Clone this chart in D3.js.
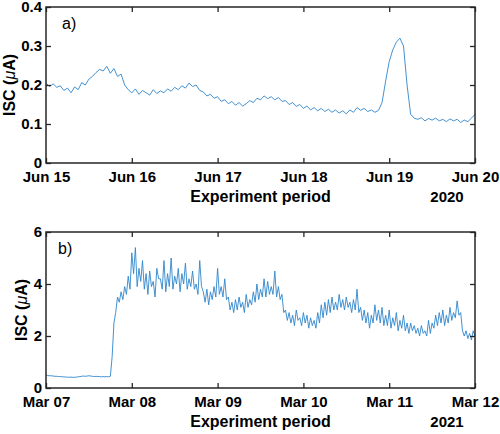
<!DOCTYPE html>
<html>
<head>
<meta charset="utf-8">
<script src="https://cdn.jsdelivr.net/npm/d3@7"></script>
<style>
  html, body { margin: 0; padding: 0; background: #fff; }
  svg { display: block; }
  text { font-family: "Liberation Sans", Arial, sans-serif; }
</style>
</head>
<body>
<svg id="chart" width="500" height="434"></svg>
<script>
// ---------- DATA ----------
// Panel a) hourly ISC (µA), Jun 15 00:00 -> Jun 20 00:00, 2020
const startA = "2020-06-15T00:00:00Z";
const endA = "2020-06-20T00:00:00Z";
const iscA = [
  0.205, 0.196, 0.203, 0.194, 0.198, 0.186, 0.192, 0.180, 0.195, 0.188,
  0.206, 0.200, 0.215, 0.222, 0.232, 0.240, 0.236, 0.248, 0.230, 0.242,
  0.222, 0.228, 0.200, 0.188, 0.180, 0.190, 0.176, 0.186, 0.180, 0.174,
  0.188, 0.178, 0.185, 0.180, 0.190, 0.184, 0.194, 0.188, 0.198, 0.192,
  0.205, 0.196, 0.200, 0.186, 0.182, 0.172, 0.176, 0.166, 0.170, 0.158,
  0.162, 0.152, 0.158, 0.148, 0.155, 0.146, 0.152, 0.160, 0.155, 0.166,
  0.162, 0.172, 0.165, 0.170, 0.162, 0.168, 0.158, 0.160, 0.150, 0.155,
  0.145, 0.150, 0.140, 0.146, 0.136, 0.142, 0.134, 0.140, 0.132, 0.138,
  0.130, 0.136, 0.128, 0.134, 0.126, 0.136, 0.130, 0.142, 0.135, 0.140,
  0.132, 0.136, 0.130, 0.135, 0.155, 0.210, 0.260, 0.290, 0.310, 0.320,
  0.300, 0.200, 0.125, 0.115, 0.112, 0.116, 0.108, 0.114, 0.110, 0.115,
  0.108, 0.112, 0.106, 0.113, 0.108, 0.112, 0.104, 0.110, 0.106, 0.115,
  0.125
];
// Panel b) half-hourly ISC (µA), Mar 07 00:00 -> Mar 12 00:00, 2021
const startB = "2021-03-07T00:00:00Z";
const endB = "2021-03-12T00:00:00Z";
const iscB = [
  0.50, 0.48, 0.47, 0.47, 0.46, 0.45, 0.45, 0.44, 0.44, 0.43,
  0.43, 0.42, 0.42, 0.41, 0.42, 0.41, 0.41, 0.42, 0.43, 0.44,
  0.45, 0.46, 0.45, 0.46, 0.47, 0.46, 0.45, 0.44, 0.45, 0.44,
  0.44, 0.43, 0.44, 0.43, 0.44, 0.43, 0.45, 1.20, 2.50, 2.90,
  3.50, 3.30, 3.70, 3.40, 3.90, 3.60, 4.30, 3.80, 5.20, 4.40,
  5.40, 3.90, 4.60, 4.10, 4.90, 3.80, 4.40, 3.60, 4.50, 3.90,
  4.10, 3.50, 4.60, 4.20, 4.20, 3.80, 4.90, 3.70, 4.40, 3.90,
  5.00, 3.80, 4.30, 4.00, 4.60, 3.70, 4.40, 4.00, 4.80, 3.80,
  4.20, 3.90, 4.50, 3.80, 4.00, 3.60, 4.90, 3.90, 3.70, 3.30,
  3.80, 3.20, 3.70, 3.40, 3.90, 3.50, 4.60, 3.60, 3.90, 3.50,
  4.20, 3.40, 3.50, 3.00, 3.30, 2.90, 3.40, 3.00, 3.50, 3.10,
  3.30, 2.90, 3.60, 3.10, 3.40, 3.20, 3.70, 3.30, 4.00, 3.40,
  3.80, 3.50, 4.20, 3.50, 4.10, 3.60, 3.90, 3.60, 4.50, 3.50,
  3.90, 3.40, 3.60, 2.90, 3.00, 2.60, 2.90, 2.50, 2.80, 2.40,
  3.00, 2.60, 2.70, 2.40, 2.90, 2.50, 2.80, 2.30, 2.70, 2.40,
  2.60, 2.30, 2.90, 2.50, 3.20, 2.70, 3.30, 2.80, 3.40, 2.90,
  3.50, 3.00, 3.30, 3.00, 3.60, 3.10, 3.40, 3.00, 3.50, 3.10,
  3.30, 2.90, 3.40, 3.00, 3.80, 2.90, 3.10, 2.60, 3.00, 2.50,
  2.90, 2.30, 2.80, 2.50, 3.20, 2.60, 3.00, 2.50, 3.10, 2.40,
  2.80, 2.40, 3.00, 2.30, 2.70, 2.40, 2.90, 2.20, 2.60, 2.30,
  2.80, 2.20, 2.50, 2.10, 2.50, 2.20, 2.40, 2.10, 2.30, 2.00,
  2.40, 2.10, 2.20, 2.00, 2.60, 2.10, 2.50, 2.30, 2.80, 2.40,
  2.90, 2.50, 3.00, 2.40, 2.80, 2.50, 3.10, 2.60, 2.90, 2.70,
  3.35, 2.80, 2.90, 2.20, 2.00, 2.20, 1.90, 2.10, 1.85, 2.20,
  2.00
];
const yTicksA = [0, 0.1, 0.2, 0.3, 0.4];
const yTicksB = [0, 2, 4, 6];
const panelLabels = ["a)", "b)"];
const yearLabels = ["2020", "2021"];
const xTitle = "Experiment period";

// ---------- DRAW ----------
const svg = d3.select("#chart");
const lineColor = "#2f86cc";
const axisColor = "#262626";
const fmt = d3.utcFormat("%b %d");

function panel(cfg) {
  const { top, bottom, left, right, start, end, stepMin, values, yMax, yTicks,
          yFormat, label, labelX, year, titleX } = cfg;
  const t0 = new Date(start);
  const data = values.map((v, i) => ({ t: d3.utcMinute.offset(t0, i * stepMin), v }));
  const x = d3.scaleUtc().domain([t0, new Date(end)]).range([left, right]);
  const y = d3.scaleLinear().domain([0, yMax]).range([bottom, top]);
  const g = svg.append("g");

  const days = d3.utcDay.range(t0, d3.utcDay.offset(new Date(end), 1));

  g.append("path")
    .datum(data)
    .attr("fill", "none")
    .attr("stroke", lineColor)
    .attr("stroke-width", 0.9)
    .attr("stroke-linejoin", "round")
    .attr("d", d3.line().x(d => x(d.t)).y(d => y(d.v)));

  const axB = g.append("g").attr("transform", `translate(0,${bottom})`)
    .call(d3.axisBottom(x).tickValues(days).tickFormat(fmt).tickSizeInner(-5).tickSizeOuter(0).tickPadding(8.5));
  const axT = g.append("g").attr("transform", `translate(0,${top})`)
    .call(d3.axisTop(x).tickValues(days).tickFormat("").tickSizeInner(-5).tickSizeOuter(0));
  const axL = g.append("g").attr("transform", `translate(${left},0)`)
    .call(d3.axisLeft(y).tickValues(yTicks).tickFormat(yFormat).tickSizeInner(-5).tickSizeOuter(0).tickPadding(4));
  const axR = g.append("g").attr("transform", `translate(${right},0)`)
    .call(d3.axisRight(y).tickValues(yTicks).tickFormat("").tickSizeInner(-5).tickSizeOuter(0));

  [axB, axT, axL, axR].forEach(a => {
    a.select(".domain").remove();
    a.selectAll(".tick line").attr("stroke", axisColor).attr("stroke-width", 1.3);
    a.selectAll(".tick text")
      .attr("fill", "#000")
      .style("font-family", '"Liberation Sans", Arial, sans-serif')
      .style("font-size", "15px")
      .style("font-weight", "bold");
  });

  g.append("rect")
    .attr("x", left).attr("y", top)
    .attr("width", right - left).attr("height", bottom - top)
    .attr("fill", "none").attr("stroke", axisColor).attr("stroke-width", 1.5);

  g.append("text")
    .attr("x", labelX).attr("y", top + 22)
    .style("font-size", "16px")
    .text(label);

  g.append("text")
    .attr("x", (left + right) / 2).attr("y", bottom + 39)
    .attr("text-anchor", "middle")
    .style("font-size", "16px").style("font-weight", "bold")
    .text(xTitle);
  g.append("text")
    .attr("x", 447).attr("y", bottom + 39)
    .attr("text-anchor", "middle")
    .style("font-size", "15px").style("font-weight", "bold")
    .text(year);

  const yt = g.append("text")
    .attr("transform", `translate(${titleX},${(top + bottom) / 2}) rotate(-90)`)
    .attr("text-anchor", "middle")
    .style("font-size", "16px").style("font-weight", "bold");
  yt.append("tspan").text("ISC (");
  yt.append("tspan").style("font-style", "italic").style("font-weight", "normal").text("\u03BC");
  yt.append("tspan").text("A)");
}

panel({ top: 7, bottom: 163, left: 46, right: 475, start: startA, end: endA, stepMin: 60,
        values: iscA, yMax: 0.4, yTicks: yTicksA, yFormat: d => d === 0 ? "0" : d3.format(".1f")(d),
        label: panelLabels[0], labelX: 62, year: yearLabels[0], titleX: 15 });
panel({ top: 232, bottom: 388, left: 46, right: 475, start: startB, end: endB, stepMin: 30,
        values: iscB, yMax: 6, yTicks: yTicksB, yFormat: d3.format("d"),
        label: panelLabels[1], labelX: 58, year: yearLabels[1], titleX: 27 });
</script>
</body>
</html>
